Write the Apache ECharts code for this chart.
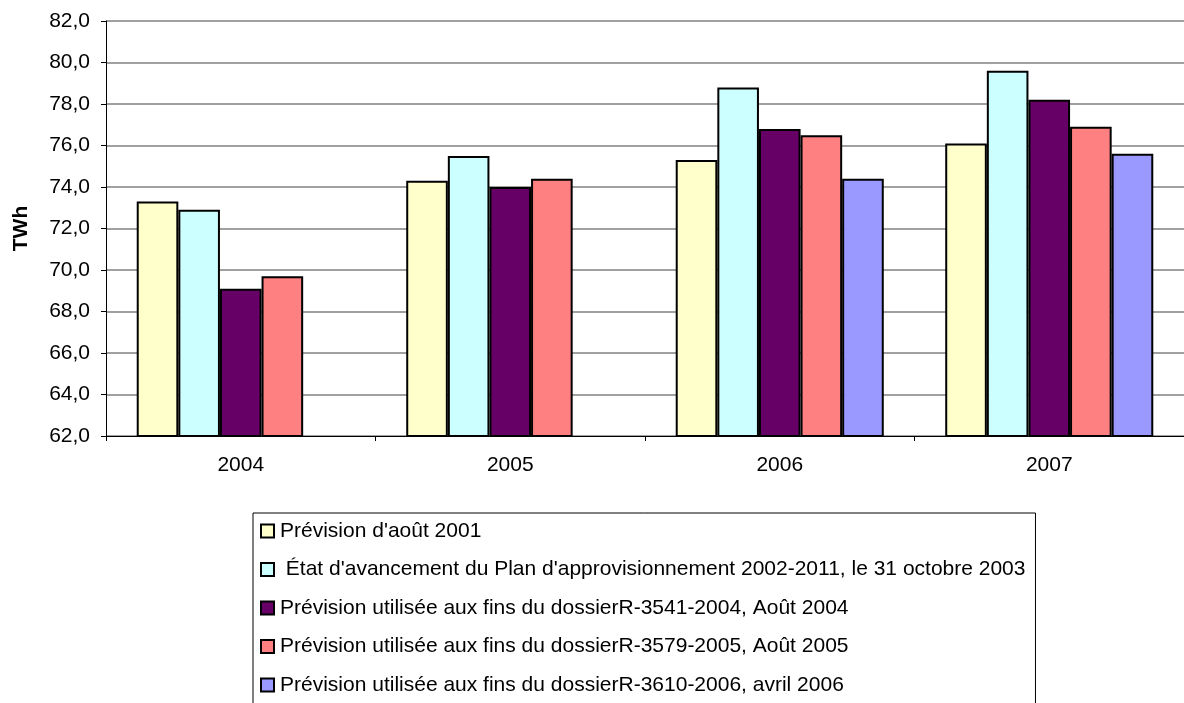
<!DOCTYPE html>
<html>
<head>
<meta charset="utf-8">
<script src="https://cdn.jsdelivr.net/npm/echarts@6/dist/echarts.min.js"></script>
<style>html,body{margin:0;padding:0;background:#fff}#c{width:1184px;height:703px}</style>
</head>
<body>
<div id="c"></div>
<script>
const categories = ['2004', '2005', '2006', '2007'];
const seriesNames = [
  "Prévision d'août 2001",
  " État d'avancement du Plan d'approvisionnement 2002-2011, le 31 octobre 2003",
  "Prévision utilisée aux fins du dossierR-3541-2004, Août 2004",
  "Prévision utilisée aux fins du dossierR-3579-2005, Août 2005",
  "Prévision utilisée aux fins du dossierR-3610-2006, avril 2006"
];
const prevision2001 = [73.3, 74.3, 75.3, 76.1];
const etat2003 = [72.9, 75.5, 78.8, 79.6];
const r3541 = [69.1, 74.0, 76.8, 78.2];
const r3579 = [69.7, 74.4, 76.5, 76.9];
const r3610 = [null, null, 74.4, 75.6];
const colors = ['#FFFFCC', '#CCFFFF', '#660066', '#FF8080', '#9999FF'];
const seriesData = [prevision2001, etat2003, r3541, r3579, r3610];

const font = '"Liberation Sans", Arial, sans-serif';
const chart = echarts.init(document.getElementById('c'));
chart.setOption({
  animation: false,
  textStyle: { fontFamily: font },
  grid: { left: 106, top: 21, bottom: 267, right: -12, containLabel: false },
  legend: {
    orient: 'vertical',
    left: 253,
    top: 513,
    height: 400,
    padding: [6, 10, 40, 7],
    borderColor: '#000',
    borderWidth: 1,
    itemWidth: 13,
    itemHeight: 13,
    itemGap: 14.5,
    icon: 'rect',
    textStyle: { fontSize: 21, color: '#000', fontFamily: font, lineHeight: 24, padding: [0, 0, 0, 1] },
    data: seriesNames
  },
  xAxis: {
    type: 'category',
    data: categories,
    axisLine: { lineStyle: { color: '#000', width: 1 } },
    axisTick: { show: true, length: 5, interval: 0, lineStyle: { color: '#000' } },
    axisLabel: { fontSize: 21, color: '#000', margin: 19, fontFamily: font },
    splitLine: { show: false }
  },
  yAxis: {
    type: 'value',
    min: 62, max: 82, interval: 2,
    name: 'TWh',
    nameLocation: 'middle',
    nameGap: 74,
    nameRotate: 90,
    nameTextStyle: { fontSize: 21, fontWeight: 'bold', color: '#000', fontFamily: font },
    axisLine: { show: true, lineStyle: { color: '#000', width: 1 } },
    axisTick: { show: true, length: 5, lineStyle: { color: '#000' } },
    axisLabel: { fontSize: 21, color: '#000', margin: 16, fontFamily: font,
      formatter: v => v.toFixed(1).replace('.', ',') },
    splitLine: { show: true, lineStyle: { color: '#808080', width: 1.5 } }
  },
  series: seriesData.map((d, i) => ({
    name: seriesNames[i],
    type: 'bar',
    data: d,
    barGap: '0%',
    barCategoryGap: '22.8%',
    itemStyle: { color: colors[i], borderColor: '#000', borderWidth: 2 }
  }))
});
</script>
</body>
</html>
